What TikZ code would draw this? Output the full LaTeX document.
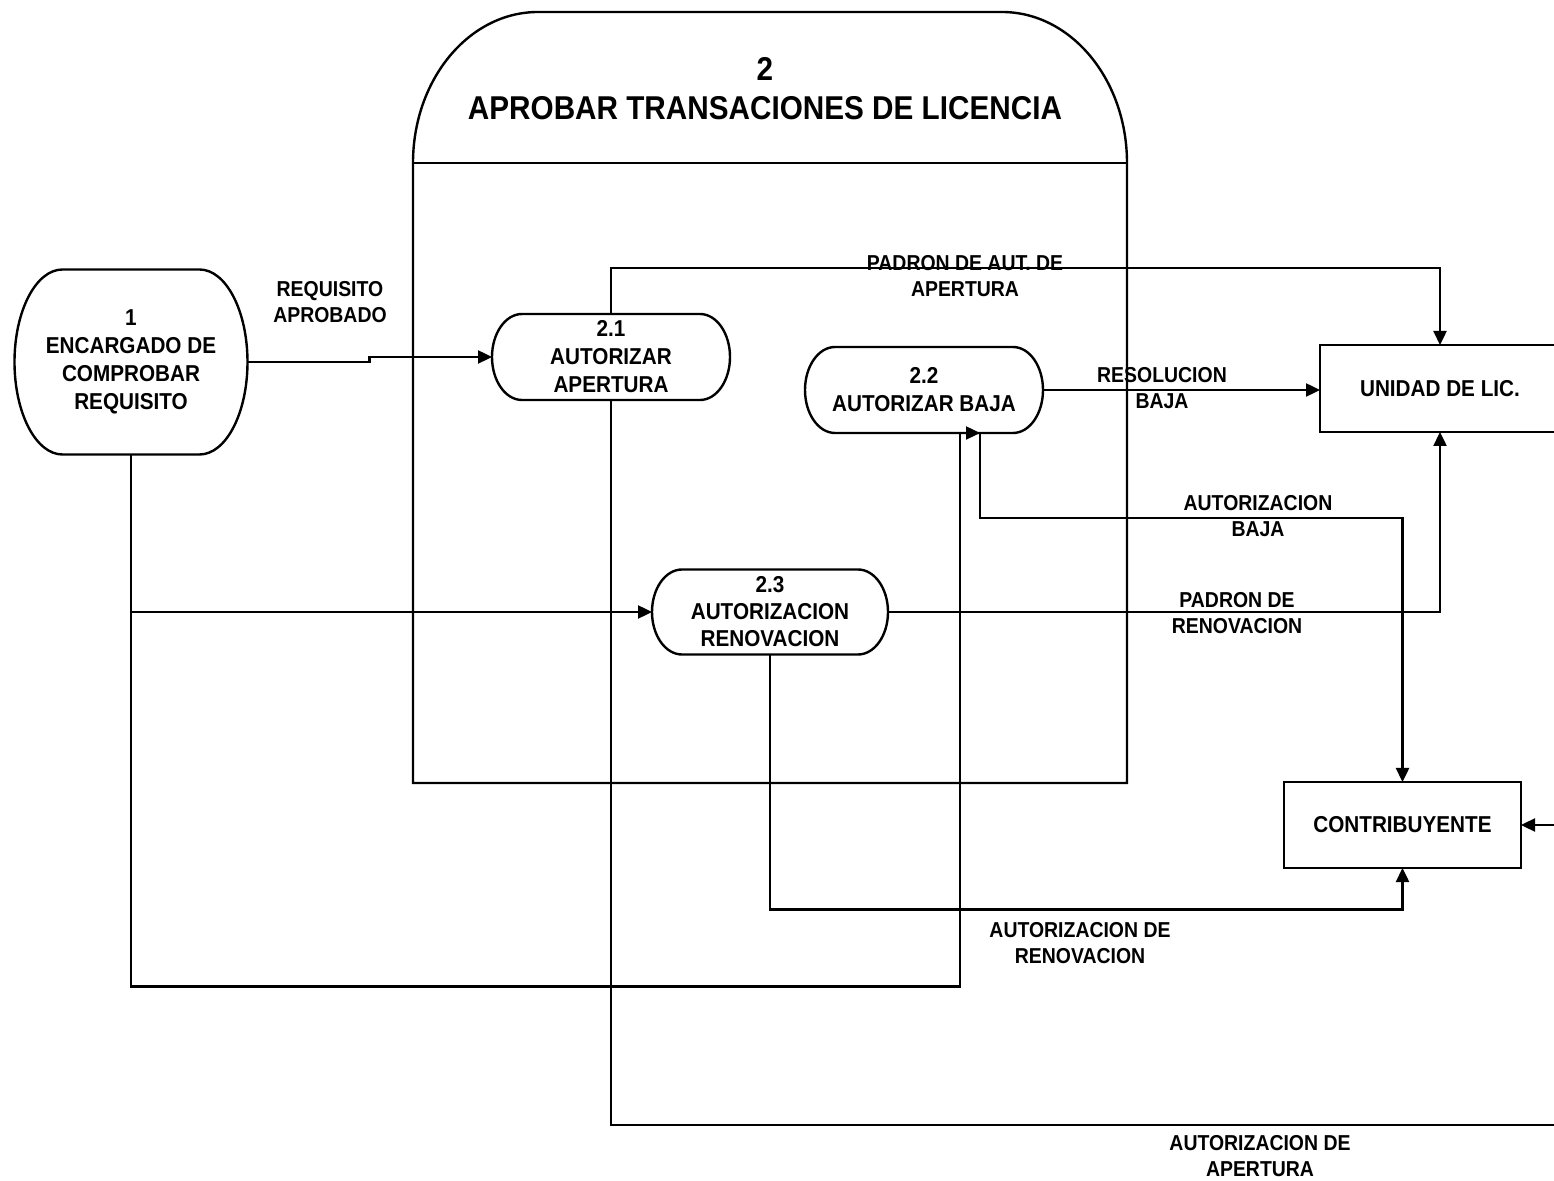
\documentclass[tikz,border=0pt]{standalone}
\usepackage{fontspec}
\newfontfamily\dfdfont[FakeStretch=0.9]{Liberation Sans}
\usetikzlibrary{arrows.meta}
\newcommand\stadiumpath[3]{%
  \draw[shapeline] ([xshift=#2]#1.north west) -- ([xshift=-#2]#1.north east)
    arc[start angle=90,end angle=-90,x radius=#2,y radius=#3]
    -- ([xshift=#2]#1.south west)
    arc[start angle=270,end angle=90,x radius=#2,y radius=#3] -- cycle;}
\begin{document}
\begin{tikzpicture}[x=0.5pt,y=-0.5pt,
  shapeline/.style={line width=1.2pt},
  proc/.style={rectangle,inner sep=0pt,outer sep=0pt,align=center,
    font=\dfdfont\bfseries\fontsize{11.5}{14}\selectfont},
  ebox/.style={rectangle,draw,line width=1.2pt,inner sep=0pt,outer sep=0pt,align=center,
    font=\dfdfont\bfseries\fontsize{11.5}{14}\selectfont},
  lbl/.style={align=center,inner sep=0pt,font=\dfdfont\bfseries\fontsize{10.8}{13}\selectfont},
  flow/.style={line width=1.2pt,-{Triangle[length=7pt,width=6.5pt]}},
  plain/.style={line width=1.2pt}]
\useasboundingbox (0,0) rectangle (1554,1181);
\clip (0,0) rectangle (1554,1181);
\fill[white] (0,0) rectangle (1554,1181);

% process 2 container
\draw[shapeline] (413,783) -- (413,163)
  arc[start angle=180,end angle=90,x radius=62.5pt,y radius=75.5pt]
  -- (1002,12)
  arc[start angle=90,end angle=0,x radius=62.5pt,y radius=75.5pt]
  -- (1127,783) -- cycle;
\draw[shapeline] (413,163) -- (1127,163);
\node[lbl,font=\dfdfont\bfseries\fontsize{16.5}{19.5}\selectfont] (t2) at (765,89)
  {2\\APROBAR TRANSACIONES DE LICENCIA};

% processes
\node[proc,minimum width=116.5pt,minimum height=92.5pt] (p1) at (131,362)
  {1\\ENCARGADO DE\\COMPROBAR\\REQUISITO};
\stadiumpath{p1}{24pt}{46.25pt}
\node[proc,minimum width=119pt,minimum height=43pt] (p21) at (611,357)
  {2.1\\AUTORIZAR\\APERTURA};
\stadiumpath{p21}{15pt}{21.5pt}
\node[proc,minimum width=119pt,minimum height=43pt] (p22) at (924,390)
  {2.2\\AUTORIZAR BAJA};
\stadiumpath{p22}{15pt}{21.5pt}
\node[proc,minimum width=118pt,minimum height=42.5pt,font=\dfdfont\bfseries\fontsize{11.5}{13.5}\selectfont] (p23) at (770,612)
  {2.3\\AUTORIZACION\\RENOVACION};
\stadiumpath{p23}{15pt}{21.25pt}

% external entities
\node[ebox,minimum width=120pt,minimum height=43.5pt] (unidad) at (1440,388.5) {UNIDAD DE LIC.};
\node[ebox,minimum width=118.5pt,minimum height=43pt] (contrib) at (1402.5,825) {CONTRIBUYENTE};

\coordinate (offa) at (1600,1125);
\coordinate (offb) at (1600,825);

% flows
\draw[flow] (p1.east) -- ++(122,0) |- (p21.west);
\draw[flow] (p21.north) -- ++(0,-46) -| (unidad.north);
\draw[flow] (p21.south) |- (offa) -- (offb) -- (contrib.east);
\draw[flow] (p22.east) -- (p22.east -| unidad.west);
\draw[flow] ([xshift=28pt]p22.south) -- ++(0,85) -| (contrib.north);
\draw[flow] (p1.south) -- ++(0,532) -| ([xshift=18pt]p22.south) -- ++(10pt,0);
\draw[flow] (p1.south |- p23.west) -- (p23.west);
\draw[flow] (p23.east) -| (unidad.south);
\draw[flow] (p23.south) -- ++(0,255) -| (contrib.south);

% labels
\node[lbl] (l1) at (330,302) {REQUISITO\\APROBADO};
\node[lbl] (l2) at (965,276) {PADRON DE AUT. DE\\APERTURA};
\node[lbl] (l3) at (1260,1156) {AUTORIZACION DE\\APERTURA};
\node[lbl] (l4) at (1162,388) {RESOLUCION\\BAJA};
\node[lbl] (l5) at (1258,516) {AUTORIZACION\\BAJA};
\node[lbl] (l8) at (1237,613) {PADRON DE\\RENOVACION};
\node[lbl] (l9) at (1080,943) {AUTORIZACION DE\\RENOVACION};
\end{tikzpicture}
\end{document}
